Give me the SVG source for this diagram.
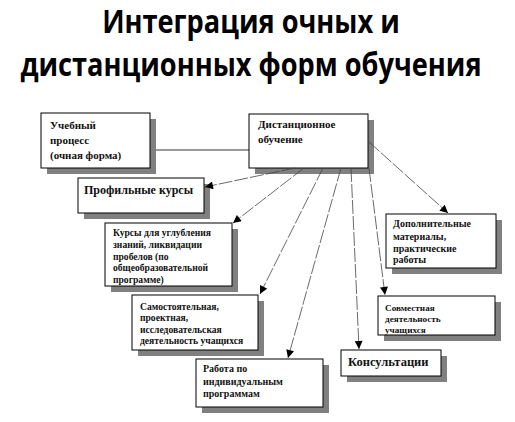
<svg xmlns="http://www.w3.org/2000/svg" width="515" height="422" viewBox="0 0 515 422">
<style>
.title{font-family:"Open Sans","Noto Sans",sans-serif;font-weight:bold;font-size:27.2px;fill:#000}
.box{fill:#fff;stroke:#000;stroke-width:1}
.sh{fill:#808080}
.t{font-family:"Liberation Serif","Times New Roman",serif;font-weight:bold;fill:#111}
.conn{stroke:#444;stroke-width:0.8;fill:none;stroke-dasharray:14 2}
</style>
<defs>
<marker id="arr" viewBox="0 0 10 10" refX="10" refY="5" markerWidth="9" markerHeight="8" markerUnits="userSpaceOnUse" orient="auto">
<path d="M0,0 L10,5 L0,10 z" fill="#000"/>
</marker>
</defs>
<rect width="515" height="422" fill="#fff"/>
<g id="title" transform="scale(1,1.15)">
<text class="title" x="251" y="28.7" text-anchor="middle">Интеграция очных и</text>
<text class="title" x="251" y="66.1" text-anchor="middle">дистанционных форм обучения</text>
</g>
<g id="link-ochn">
<line x1="150" y1="150" x2="249" y2="150" stroke="#000" stroke-width="0.8"/>
</g>
<g id="node-ochn">
<rect class="sh" x="47" y="119" width="109" height="55"/>
<rect class="box" x="41" y="113" width="109" height="55"/>
<text class="t" font-size="11"><tspan x="50" y="129">Учебный</tspan><tspan x="50" y="144">процесс</tspan><tspan x="50" y="159">(очная форма)</tspan></text>
</g>
<g id="node-dist">
<rect class="sh" x="255" y="120" width="119" height="54"/>
<rect class="box" x="249" y="114" width="119" height="54"/>
<text class="t" font-size="11"><tspan x="258" y="128">Дистанционное</tspan><tspan x="258" y="143">обучение</tspan></text>
</g>
<g id="node-prof">
<rect class="sh" x="84" y="184" width="126" height="35"/>
<rect class="box" x="78" y="178" width="126" height="35"/>
<text class="t" font-size="12" x="84" y="194">Профильные курсы</text>
</g>
<g id="node-kursy">
<rect class="sh" x="111" y="229" width="127" height="63"/>
<rect class="box" x="105" y="223" width="127" height="63"/>
<text class="t" font-size="9.6"><tspan x="113" y="236">Курсы для углубления</tspan><tspan x="113" y="248">знаний, ликвидации</tspan><tspan x="113" y="260">пробелов (по</tspan><tspan x="113" y="271">общеобразовательной</tspan><tspan x="113" y="283">программе)</tspan></text>
</g>
<g id="node-samost">
<rect class="sh" x="138" y="301" width="126" height="55"/>
<rect class="box" x="132" y="295" width="126" height="55"/>
<text class="t" font-size="9.6"><tspan x="140" y="310">Самостоятельная,</tspan><tspan x="140" y="321">проектная,</tspan><tspan x="140" y="333">исследовательская</tspan><tspan x="140" y="344">деятельность учащихся</tspan></text>
</g>
<g id="node-rabota">
<rect class="sh" x="202" y="365" width="127" height="48"/>
<rect class="box" x="196" y="359" width="127" height="48"/>
<text class="t" font-size="10"><tspan x="203" y="372">Работа по</tspan><tspan x="203" y="385">индивидуальным</tspan><tspan x="203" y="397">программам</tspan></text>
</g>
<g id="node-kons">
<rect class="sh" x="347" y="356" width="100" height="26"/>
<rect class="box" x="341" y="350" width="100" height="26"/>
<text class="t" font-size="12.5" x="348" y="366">Консультации</text>
</g>
<g id="node-dop">
<rect class="sh" x="392" y="220" width="110" height="54"/>
<rect class="box" x="386" y="214" width="110" height="54"/>
<text class="t" font-size="10"><tspan x="393" y="227">Дополнительные</tspan><tspan x="393" y="240">материалы,</tspan><tspan x="393" y="252">практические</tspan><tspan x="393" y="263">работы</tspan></text>
</g>
<g id="node-sovm">
<rect class="sh" x="384" y="302" width="117" height="39"/>
<rect class="box" x="378" y="296" width="117" height="39"/>
<text class="t" font-size="9.2"><tspan x="385" y="311">Совместная</tspan><tspan x="385" y="322">деятельность</tspan><tspan x="385" y="333">учащихся</tspan></text>
</g>
<g id="connectors">
<line class="conn" x1="295" y1="168" x2="205" y2="187" marker-end="url(#arr)"/>
<line class="conn" x1="304" y1="168" x2="233" y2="223" marker-end="url(#arr)"/>
<line class="conn" x1="323" y1="168" x2="260" y2="294" marker-end="url(#arr)"/>
<line class="conn" x1="341" y1="168" x2="288" y2="358" marker-end="url(#arr)"/>
<line class="conn" x1="351" y1="168" x2="359" y2="349" marker-end="url(#arr)"/>
<line class="conn" x1="369" y1="168" x2="385" y2="295" marker-end="url(#arr)"/>
<line class="conn" x1="369" y1="142" x2="448" y2="213" marker-end="url(#arr)"/>
</g>
</svg>
